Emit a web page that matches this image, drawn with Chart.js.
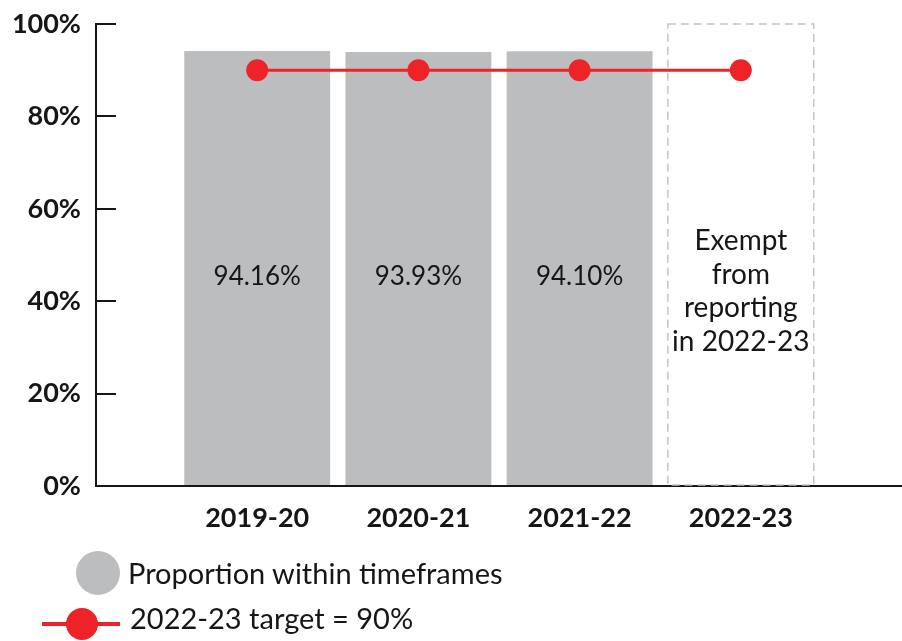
<!DOCTYPE html>
<html>
<head>
<meta charset="utf-8">
<script src="https://cdn.jsdelivr.net/npm/chart.js@4"></script>
<style>
    html, body { margin: 0; padding: 0; background: #fff; }
    #wrap { position: relative; width: 902px; height: 641px; font-family: 'Lato', sans-serif; color: #161616; }
    #wrap canvas { position: absolute; left: 0; top: 0; }
    .legend-text { position: absolute; font-size: 29px; line-height: 1.2; white-space: nowrap; }
    .dot { position: absolute; border-radius: 50%; }
    .bar-key { left: 76px; top: 551px; width: 44px; height: 44px; background: #bcbdbf; }
    .line-key { position: absolute; left: 42px; top: 622px; width: 78px; height: 4px; background: #ed2327; }
    .line-dot { left: 66px; top: 608px; width: 32px; height: 32px; background: #ed2327; }
</style>
</head>
<body>
<div id="wrap">
    <canvas id="timeframeChart" width="902" height="641"></canvas>
    <div class="dot bar-key"></div>
    <div class="legend-text" style="left:128px; top:556px;">Proportion within timeframes</div>
    <div class="line-key"></div>
    <div class="dot line-dot"></div>
    <div class="legend-text" style="left:130px; top:601px;">2022-23 target = 90%</div>
</div>
<script>
// ==========================================
// Proportion of cases within timeframes
// ==========================================

const years = ['2019-20', '2020-21', '2021-22', '2022-23'];
const proportion = [94.16, 93.93, 94.10, null];
const exempt = [null, null, null, 100];
const target = [90, 90, 90, 90];
const exemptNote = ['Exempt', 'from', 'reporting', 'in 2022-23'];
const yTicks = [0, 20, 40, 60, 80, 100];

const GREY = '#bcbdbf';
const RED = '#ed2327';
const INK = '#161616';

// blank slots either side keep the years away from the axes
const pad = (arr) => [null, ...arr, null];
const labels = ['', ...years, ''];

// dashed outline for the exempt year plus the value / note text
const annotations = {
    id: 'annotations',
    afterDatasetDraw(chart, args) {
        if (args.index !== 1) return;
        const ctx = chart.ctx;
        args.meta.data.forEach((bar, i) => {
            if (pad(exempt)[i] == null) return;
            const { x, y, base, width } = bar.getProps(['x', 'y', 'base', 'width'], true);
            ctx.save();
            ctx.setLineDash([8, 5]);
            ctx.strokeStyle = '#c4c4c4';
            ctx.lineWidth = 1.5;
            ctx.strokeRect(x - width / 2, y, width, base - y);
            ctx.restore();
        });
    },
    afterDatasetsDraw(chart) {
        const ctx = chart.ctx;
        const mid = chart.scales.y.getPixelForValue(50);
        ctx.save();
        ctx.fillStyle = INK;
        ctx.textAlign = 'center';
        ctx.textBaseline = 'alphabetic';

        ctx.font = "26px 'Lato', sans-serif";
        chart.getDatasetMeta(0).data.forEach((bar, i) => {
            const v = pad(proportion)[i];
            if (v == null) return;
            ctx.fillText(v.toFixed(2) + '%', bar.x, mid + 30);
        });

        ctx.font = "28px 'Lato', sans-serif";
        chart.getDatasetMeta(1).data.forEach((bar, i) => {
            if (pad(exempt)[i] == null) return;
            exemptNote.forEach((line, j) => {
                ctx.fillText(line, bar.x, mid - 5 + j * 33.7);
            });
        });
        ctx.restore();
    }
};

const canvas = document.getElementById('timeframeChart');
const chart = new Chart(canvas.getContext('2d'), {
    type: 'bar',
    data: {
        labels,
        datasets: [
            {
                label: 'Proportion within timeframes',
                data: pad(proportion),
                backgroundColor: GREY,
                borderWidth: 0,
                stack: 'years',
                categoryPercentage: 1,
                barPercentage: 0.905,
                order: 2
            },
            {
                label: 'Exempt',
                data: pad(exempt),
                backgroundColor: 'rgba(0, 0, 0, 0)',
                borderWidth: 0,
                stack: 'years',
                categoryPercentage: 1,
                barPercentage: 0.905,
                order: 1
            },
            {
                type: 'line',
                label: '2022-23 target = 90%',
                data: pad(target),
                borderColor: RED,
                backgroundColor: RED,
                borderWidth: 3,
                pointRadius: 11,
                pointBackgroundColor: RED,
                pointBorderWidth: 0,
                tension: 0,
                order: 0
            }
        ]
    },
    options: {
        responsive: false,
        animation: false,
        layout: { autoPadding: false, padding: { top: 24, right: 0, bottom: 0, left: 0 } },
        plugins: {
            legend: { display: false },
            tooltip: { enabled: false }
        },
        scales: {
            x: {
                offset: false,
                grid: { display: false, drawTicks: false },
                border: { display: true, color: INK, width: 2 },
                ticks: {
                    color: INK,
                    font: { family: "'Lato', sans-serif", size: 27, weight: 'bold' },
                    padding: 16,
                    maxRotation: 0,
                    autoSkip: false
                },
                afterFit(scale) {
                    scale.height = 155;
                    scale.paddingLeft = 0;
                    scale.paddingRight = 0;
                }
            },
            y: {
                min: 0,
                max: 100,
                afterBuildTicks(scale) { scale.ticks = yTicks.map(v => ({ value: v })); },
                grid: {
                    drawOnChartArea: false,
                    drawTicks: true,
                    tickLength: -20,
                    color: INK,
                    lineWidth: 2
                },
                border: { display: true, color: INK, width: 2 },
                ticks: {
                    color: INK,
                    font: { family: "'Lato', sans-serif", size: 27, weight: 'bold' },
                    padding: 35,
                    callback: (value) => value + '%'
                },
                afterFit(scale) {
                    scale.width = 96;
                    scale.paddingTop = 0;
                    scale.paddingBottom = 0;
                }
            }
        }
    },
    plugins: [annotations]
});
</script>
</body>
</html>
